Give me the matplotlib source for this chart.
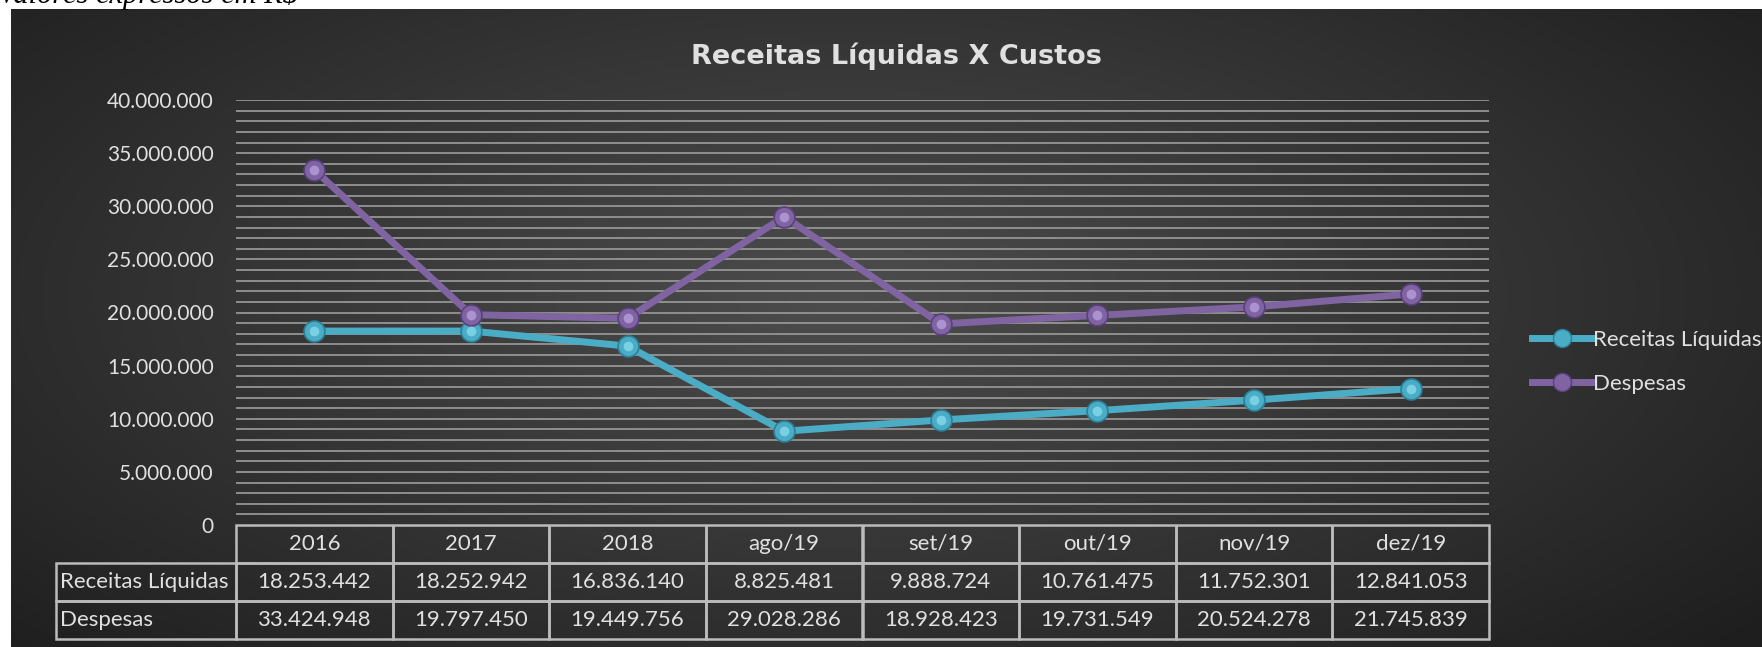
import numpy as np
import matplotlib
matplotlib.use("Agg")
import matplotlib.pyplot as plt
from matplotlib.ticker import MultipleLocator, FuncFormatter
from matplotlib.table import Table
from matplotlib.lines import Line2D

# Data (values from the chart's data table)
categories = ["2016", "2017", "2018", "ago/19", "set/19", "out/19", "nov/19", "dez/19"]
receitas = [18253442, 18252942, 16836140, 8825481, 9888724, 10761475, 11752301, 12841053]
despesas = [33424948, 19797450, 19449756, 29028286, 18928423, 19731549, 20524278, 21745839]
series_names = ["Receitas Líquidas", "Despesas"]

W, H = 1762, 647
fig = plt.figure(figsize=(W / 100, H / 100), dpi=100, facecolor="white")

txt_color = "#e0e0e0"
font = "Lato"
teal, teal_hi, teal_dk = "#4bacc6", "#8fe0f0", "#2a8099"
purple, purple_hi, purple_dk = "#8064a2", "#c0a6e6", "#5a4080"


def fmt(v):
    return f"{v:,.0f}".replace(",", ".")


# dark panel with a radial gradient
bg = fig.add_axes([11 / W, 0, 1 - 11 / W, 1 - 9 / H], zorder=-5)
gx, gy = np.meshgrid(np.linspace(0, 1, 400), np.linspace(0, 1, 150))
dist = np.sqrt(((gx - 0.48) / 0.75) ** 2 + ((gy - 0.45) / 0.9) ** 2)
shade = np.clip(0.30 - 0.20 * dist, 0.12, 0.31)
bg.imshow(np.dstack([shade] * 3), aspect="auto", extent=[0, 1, 0, 1], interpolation="bicubic")
bg.axis("off")

# italic note, partly cut off at top (as in the original)
fig.text(-2 / W, 1 - 3 / H, "Valores expressos em R$", family="Liberation Serif",
         style="italic", fontsize=22, color="black", va="baseline", ha="left")

# main plot area
x0, x1 = 236, 1489
ytop, ybot = 100, 525
ax = fig.add_axes([x0 / W, 1 - ybot / H, (x1 - x0) / W, (ybot - ytop) / H])
ax.set_facecolor("none")
x = np.arange(len(categories))

ax.plot(x, receitas, color=teal, lw=5, marker="o", ms=15,
        mfc=teal, mec=teal_dk, mew=1.2, solid_capstyle="round", zorder=4)
ax.plot(x, receitas, ls="none", marker="o", ms=7, mfc=teal_hi, mec="none", alpha=0.7, zorder=5)
ax.plot(x, despesas, color=purple, lw=5, marker="o", ms=15,
        mfc=purple, mec=purple_dk, mew=1.2, solid_capstyle="round", zorder=4)
ax.plot(x, despesas, ls="none", marker="o", ms=7, mfc=purple_hi, mec="none", alpha=0.7, zorder=5)

ax.set_xlim(-0.5, len(categories) - 0.5)
ax.set_ylim(0, 40000000)
ax.yaxis.set_major_locator(MultipleLocator(5000000))
ax.yaxis.set_minor_locator(MultipleLocator(1000000))
ax.yaxis.set_major_formatter(FuncFormatter(lambda v, p: fmt(v)))
ax.grid(True, which="both", axis="y", color="#959595", lw=1.3)
ax.set_axisbelow(True)
ax.tick_params(axis="y", which="both", length=0, pad=16, labelsize=15, labelcolor=txt_color)
ax.tick_params(axis="x", length=0, labelbottom=False)
for lbl in ax.get_yticklabels():
    lbl.set_family(font)
for s in ax.spines.values():
    s.set_visible(False)

# data table below the plot
tl, tb = 56, 639
tab = Table(ax, bbox=[(tl - x0) / (x1 - x0), -(tb - ybot) / (ybot - ytop),
                      (x1 - tl) / (x1 - x0), (tb - ybot) / (ybot - ytop)])
lab_w, col_w = x0 - tl, (x1 - x0) / len(categories)
edge = "#bcbcbc"
for j, c in enumerate(categories):
    tab.add_cell(0, j + 1, col_w, 1, text=c, loc="center", facecolor="none", edgecolor=edge)
for i, (name, vals) in enumerate(zip(series_names, [receitas, despesas])):
    tab.add_cell(i + 1, 0, lab_w, 1, text=name, loc="left", facecolor="none", edgecolor=edge)
    for j, v in enumerate(vals):
        tab.add_cell(i + 1, j + 1, col_w, 1, text=fmt(v), loc="center", facecolor="none", edgecolor=edge)
tab.auto_set_font_size(False)
tab.set_fontsize(16)
for cell in tab.get_celld().values():
    cell.set_linewidth(1.8)
    cell.PAD = 0.02
    cell.get_text().set_color(txt_color)
    cell.get_text().set_family(font)
ax.add_table(tab)

# title
fig.text(896 / W, 1 - 56 / H, "Receitas Líquidas X Custos", ha="center", va="center",
         fontsize=19.5, fontweight="bold", family="DejaVu Sans", color=txt_color)

# legend
handles = [
    Line2D([], [], color=teal, lw=5, marker="o", ms=13, mfc=teal, mec=teal_dk),
    Line2D([], [], color=purple, lw=5, marker="o", ms=13, mfc=purple, mec=purple_dk),
]
leg = fig.legend(handles, series_names, loc="center left", bbox_to_anchor=(1512 / W, 1 - 362 / H),
                 frameon=False, handlelength=2.7, handletextpad=0.05, labelspacing=1.1,
                 prop={"family": font, "size": 16})
for t in leg.get_texts():
    t.set_color(txt_color)

fig.savefig("out.png", dpi=100, facecolor="white")
